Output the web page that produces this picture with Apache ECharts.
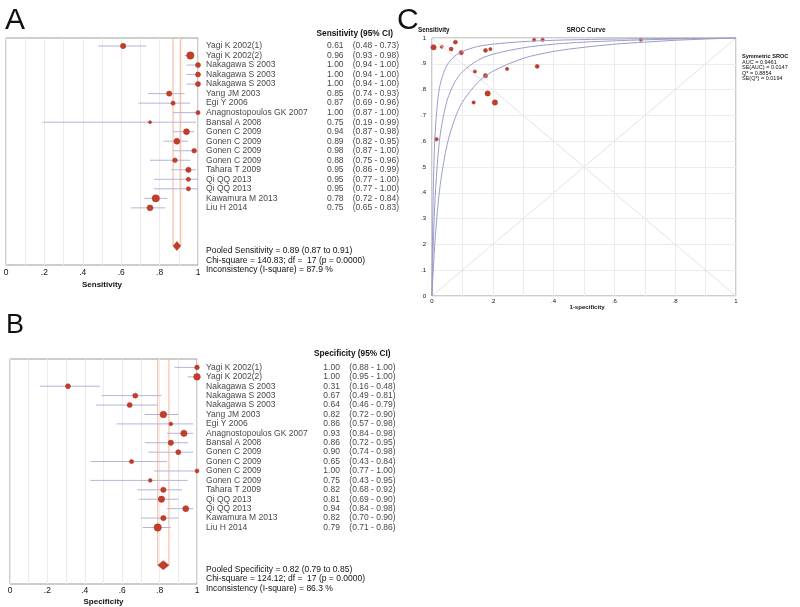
<!DOCTYPE html>
<html>
<head>
<meta charset="utf-8">
<script src="https://cdn.jsdelivr.net/npm/echarts@6/dist/echarts.min.js"></script>
<style>
html,body{margin:0;padding:0;background:#fff;}
#chart{width:800px;height:607px;}
</style>
</head>
<body>
<div id="chart"></div>
<script>
// ---------------- DATA ----------------
const studies = ['Yagi K 2002(1)','Yagi K 2002(2)','Nakagawa S 2003','Nakagawa S 2003','Nakagawa S 2003','Yang JM 2003','Egi Y 2006','Anagnostopoulos GK 2007','Bansal A 2008','Gonen C 2009','Gonen C 2009','Gonen C 2009','Gonen C 2009','Tahara T 2009','Qi QQ 2013','Qi QQ 2013','Kawamura M 2013','Liu H 2014'];

const sens   = [0.61,0.96,1.00,1.00,1.00,0.85,0.87,1.00,0.75,0.94,0.89,0.98,0.88,0.95,0.95,0.95,0.78,0.75];
const sensLo = [0.48,0.93,0.94,0.94,0.94,0.74,0.69,0.87,0.19,0.87,0.82,0.87,0.75,0.86,0.77,0.77,0.72,0.65];
const sensHi = [0.73,0.98,1.00,1.00,1.00,0.93,0.96,1.00,0.99,0.98,0.95,1.00,0.96,0.99,1.00,1.00,0.84,0.83];
const sensWeight = [11,21,10,10,10,11,7,7,3.5,14,14,8.6,8.6,11,7,7,21,14];

const spec   = [1.00,1.00,0.31,0.67,0.64,0.82,0.86,0.93,0.86,0.90,0.65,1.00,0.75,0.82,0.81,0.94,0.82,0.79];
const specLo = [0.88,0.95,0.16,0.49,0.46,0.72,0.57,0.84,0.72,0.74,0.43,0.77,0.43,0.68,0.69,0.84,0.70,0.71];
const specHi = [1.00,1.00,0.48,0.81,0.79,0.90,0.98,0.98,0.95,0.98,0.84,1.00,0.95,0.92,0.90,0.98,0.90,0.86];
const specWeight = [8.6,17.5,9.8,9.8,9.8,17.5,5.3,15.5,11,9.8,7.2,6.25,5.3,11,15.5,14,11,21];

const pooledSens = [0.87, 0.89, 0.91];   // lo, estimate, hi
const pooledSpec = [0.79, 0.82, 0.85];
const sensStats = ['Pooled Sensitivity = 0.89 (0.87 to 0.91)','Chi-square = 140.83; df =  17 (p = 0.0000)','Inconsistency (I-square) = 87.9 %'];
const specStats = ['Pooled Specificity = 0.82 (0.79 to 0.85)','Chi-square = 124.12; df =  17 (p = 0.0000)','Inconsistency (I-square) = 86.3 %'];

// SROC study points (1-specificity, sensitivity) as plotted
const srocFpr  = [0.0145,0.005,0.687,0.336,0.364,0.176,0.141,0.077,0.137,0.096,0.346,0.032,0.247,0.176,0.192,0.063,0.183,0.207];
const srocSens = [0.608,0.964,0.993,0.993,0.993,0.854,0.870,0.984,0.750,0.943,0.890,0.966,0.880,0.952,0.957,0.957,0.785,0.750];
const srocWeight = [8.5,19.5,7.6,7.6,7.6,12.8,7.6,11,7.6,12.8,11,7.6,7.6,11,7.6,11,19.5,19.5];

// SROC curves
const curveFpr = [0,0.001,0.0025,0.005,0.01,0.02,0.03,0.05,0.075,0.1,0.15,0.2,0.3,0.4,0.5,0.6,0.7,0.8,0.9,1];
const curveUpper = [0,0.141,0.291,0.452,0.624,0.770,0.835,0.896,0.930,0.948,0.967,0.976,0.986,0.991,0.994,0.996,0.997,0.998,0.999,1];
const curveMid   = [0,0.056,0.130,0.231,0.376,0.549,0.649,0.759,0.829,0.869,0.913,0.937,0.962,0.976,0.984,0.989,0.993,0.996,0.998,1];
const curveLower = [0,0.026,0.064,0.120,0.215,0.356,0.456,0.588,0.687,0.751,0.827,0.871,0.921,0.948,0.964,0.976,0.984,0.991,0.996,1];
const diagUp = [[0,0],[1,1]];
const diagDown = [[0,1],[1,0]];
const srocStats = ['Symmetric SROC','AUC = 0.9461','SE(AUC) = 0.0147','Q* = 0.8854','SE(Q*) = 0.0194'];

// ---------------- STYLE ----------------
const FONT = 'Liberation Sans, Arial, sans-serif';
const RED = '#c43d29';
const CI_COL = '#b3b3dc';
const ORANGE = '#f6b592';
const GRIDC = '#ececec';
const BORDER = '#9a9a9a';
const POOLED_ROW = 21;

const chart = echarts.init(document.getElementById('chart'), null, {renderer:'canvas'});

function fmtForest(v){
  const t = Math.round(v*10);
  if (t === 0) return '0';
  if (t === 10) return '1';
  return (t % 2 === 0) ? '.' + t : '';
}
function fmtTenth(v){
  const t = Math.round(v*10);
  if (t === 0) return '0';
  if (t === 10) return '1';
  return '.' + t;
}

function forestSeries(ax, vals, lo, hi, weights, pooled, yMin, nameW, valW){
  const list = [];
  list.push({
    type:'custom', xAxisIndex:ax, yAxisIndex:ax, silent:true, clip:false,
    data: [[pooled[0]],[pooled[2]]],
    encode:{x:0},
    renderItem:(p, api)=>{
      const a = api.coord([api.value(0), yMin]);
      const b = api.coord([api.value(0), POOLED_ROW]);
      return {type:'line', shape:{x1:a[0],y1:a[1],x2:b[0],y2:b[1]}, style:{stroke:ORANGE, lineWidth:1}};
    }
  });
  list.push({
    type:'custom', xAxisIndex:ax, yAxisIndex:ax, silent:true, clip:false,
    data: vals.map((v,i)=>[lo[i], hi[i], i]),
    encode:{x:[0,1], y:2},
    renderItem:(p, api)=>{
      const a = api.coord([api.value(0), api.value(2)]);
      const b = api.coord([api.value(1), api.value(2)]);
      return {type:'line', shape:{x1:a[0],y1:a[1],x2:b[0],y2:b[1]}, style:{stroke:CI_COL, lineWidth:1}};
    }
  });
  list.push({
    type:'scatter', xAxisIndex:ax, yAxisIndex:ax, silent:true, clip:false,
    data: vals.map((v,i)=>[v, i, weights[i]]),
    symbolSize:(d)=>1.6*Math.sqrt(d[2]),
    itemStyle:{color:RED, borderColor:'#a8301f', borderWidth:0.5, opacity:1}
  });
  list.push({
    type:'custom', xAxisIndex:ax, yAxisIndex:ax, silent:true, clip:false,
    data: [[pooled[0], pooled[1], pooled[2], POOLED_ROW]],
    encode:{x:[0,1,2], y:3},
    renderItem:(p, api)=>{
      const l = api.coord([api.value(0), api.value(3)]);
      const c = api.coord([api.value(1), api.value(3)]);
      const r = api.coord([api.value(2), api.value(3)]);
      return {type:'polygon', shape:{points:[[l[0],l[1]],[c[0],c[1]-4.5],[r[0],r[1]],[c[0],c[1]+4.5]]}, style:{fill:RED, stroke:'#a8301f', lineWidth:0.5}};
    }
  });
  list.push({
    type:'scatter', xAxisIndex:ax, yAxisIndex:ax, silent:true, clip:false,
    data: vals.map((v,i)=>[1, i]),
    symbolSize:0.1,
    itemStyle:{color:'rgba(0,0,0,0)'},
    label:{
      show:true, position:'right', distance: nameW[0],
      formatter:(p)=>{
        const i = p.dataIndex;
        return '{n|'+studies[i]+'}{v|'+vals[i].toFixed(2)+'}{c|('+lo[i].toFixed(2)+' - '+hi[i].toFixed(2)+')}';
      },
      rich:{
        n:{width:nameW[1], fontFamily:FONT, fontSize:8.5, color:'#111'},
        v:{width:valW, fontFamily:FONT, fontSize:8.5, color:'#111'},
        c:{fontFamily:FONT, fontSize:8.5, color:'#111'}
      }
    }
  });
  return list;
}

const series = []
  .concat(forestSeries(0, sens, sensLo, sensHi, sensWeight, pooledSens, -0.84, [8,121], 25.7))
  .concat(forestSeries(1, spec, specLo, specHi, specWeight, pooledSpec, -0.89, [9,117.3], 26));

series.push(
  {type:'line', xAxisIndex:2, yAxisIndex:2, silent:true, showSymbol:false, data:diagUp, lineStyle:{color:'#e3e3e3', width:1}},
  {type:'line', xAxisIndex:2, yAxisIndex:2, silent:true, showSymbol:false, data:diagDown, lineStyle:{color:'#e3e3e3', width:1}},
  {type:'line', xAxisIndex:2, yAxisIndex:2, silent:true, showSymbol:false, smooth:0.3, data:curveFpr.map((f,i)=>[f, curveUpper[i]]), lineStyle:{color:'#9c9cc9', width:1}},
  {type:'line', xAxisIndex:2, yAxisIndex:2, silent:true, showSymbol:false, smooth:0.3, data:curveFpr.map((f,i)=>[f, curveMid[i]]), lineStyle:{color:'#9c9cc9', width:1}},
  {type:'line', xAxisIndex:2, yAxisIndex:2, silent:true, showSymbol:false, smooth:0.3, data:curveFpr.map((f,i)=>[f, curveLower[i]]), lineStyle:{color:'#9c9cc9', width:1}},
  {type:'scatter', xAxisIndex:2, yAxisIndex:2, silent:true, clip:false,
   data: srocFpr.map((f,i)=>[f, srocSens[i], srocWeight[i]]),
   symbolSize:(d)=>1.2*Math.sqrt(d[2]),
   itemStyle:{color:RED, borderColor:'#a8301f', borderWidth:0.5, opacity:1}}
);

function forestX(idx, name, labelMargin, nameGap){
  return {
    gridIndex:idx, type:'value', min:0, max:1, interval:0.1,
    axisLine:{show:false}, axisTick:{show:false},
    splitLine:{show:true, lineStyle:{color:GRIDC, width:1}},
    axisLabel:{formatter:fmtForest, fontFamily:FONT, fontSize:8.5, color:'#111', margin:labelMargin, showMinLabel:true, showMaxLabel:true},
    name:name, nameLocation:'middle', nameGap:nameGap,
    nameTextStyle:{fontFamily:FONT, fontSize:8, fontWeight:'bold', color:'#111'}
  };
}

const stext = (text, x, y, size, bold, align) => ({
  type:'text', silent:true,
  style:{text:text, x:x, y:y, fill:'#111', font:(bold?'bold ':'')+size+'px '+FONT, textAlign:align||'left', textVerticalAlign:'middle'}
});

const graphics = [
  stext('A', 5, 21, 30, false),
  stext('B', 6, 326, 27, false),
  stext('C', 397, 21, 30, false),
  stext('Sensitivity (95% CI)', 316.5, 33.5, 8.3, true),
  stext('Specificity (95% CI)', 314, 354, 8.3, true),
  stext(sensStats[0], 206, 251, 8.5, false),
  stext(sensStats[1], 206, 260.5, 8.5, false),
  stext(sensStats[2], 206, 270, 8.5, false),
  stext(specStats[0], 206, 569.5, 8.5, false),
  stext(specStats[1], 206, 579, 8.5, false),
  stext(specStats[2], 206, 588.5, 8.5, false),
  stext('Sensitivity', 418, 30, 6.3, true),
  stext('SROC Curve', 586, 30, 6.5, true, 'center'),
  stext('1-specificity', 587, 307, 6.1, true, 'center'),
  stext(srocStats[0], 742, 56.7, 5.6, true),
  stext(srocStats[1], 742, 62.2, 5.5, false),
  stext(srocStats[2], 742, 67.6, 5.5, false),
  stext(srocStats[3], 742, 73, 5.5, false),
  stext(srocStats[4], 742, 78.4, 5.5, false)
];

const option = {
  animation:false,
  backgroundColor:'#fff',
  grid:[
    {left:6, top:38, width:192, height:227, show:true, borderColor:BORDER, borderWidth:1, backgroundColor:'transparent'},
    {left:10, top:359, width:187, height:225, show:true, borderColor:BORDER, borderWidth:1, backgroundColor:'transparent'},
    {left:432, top:38, width:304, height:258, show:true, borderColor:BORDER, borderWidth:1, backgroundColor:'transparent'}
  ],
  xAxis:[
    forestX(0, 'Sensitivity', 3, 16),
    forestX(1, 'Specificity', 2, 14),
    {gridIndex:2, type:'value', min:0, max:1, interval:0.1,
     axisLine:{show:false}, axisTick:{show:false},
     splitLine:{show:true, lineStyle:{color:GRIDC, width:1}},
     axisLabel:{formatter:fmtForest, fontFamily:FONT, fontSize:6, color:'#111', margin:2}}
  ],
  yAxis:[
    {gridIndex:0, type:'value', min:-0.84, max:23, inverse:true, show:false, splitLine:{show:false}},
    {gridIndex:1, type:'value', min:-0.89, max:23, inverse:true, show:false, splitLine:{show:false}},
    {gridIndex:2, type:'value', min:0, max:1, interval:0.1,
     axisLine:{show:false}, axisTick:{show:false},
     splitLine:{show:true, lineStyle:{color:GRIDC, width:1}},
     axisLabel:{formatter:fmtTenth, fontFamily:FONT, fontSize:6, color:'#111', margin:6}}
  ],
  series:series,
  graphic:graphics
};
chart.setOption(option);
</script>
</body>
</html>
